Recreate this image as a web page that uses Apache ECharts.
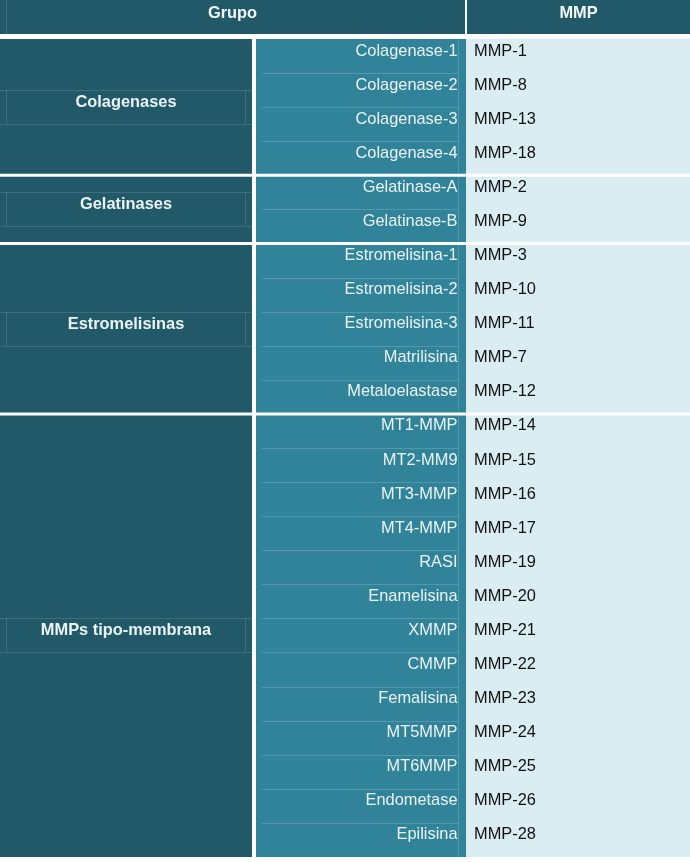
<!DOCTYPE html>
<html><head><meta charset="utf-8">
<script src="https://cdn.jsdelivr.net/npm/echarts@6/dist/echarts.min.js"></script>
<style>html,body{margin:0;padding:0;background:#fff}#c{width:690px;height:862px}</style>
</head><body><div id="c"></div>
<script>
const headers = ['Grupo', 'MMP'];
const groups = ['Colagenases', 'Gelatinases', 'Estromelisinas', 'MMPs tipo-membrana'];
const groupSizes = [4, 2, 5, 13];
const enzymes = ['Colagenase-1','Colagenase-2','Colagenase-3','Colagenase-4','Gelatinase-A','Gelatinase-B','Estromelisina-1','Estromelisina-2','Estromelisina-3','Matrilisina','Metaloelastase','MT1-MMP','MT2-MM9','MT3-MMP','MT4-MMP','RASI','Enamelisina','XMMP','CMMP','Femalisina','MT5MMP','MT6MMP','Endometase','Epilisina'];
const mmps = ['MMP-1','MMP-8','MMP-13','MMP-18','MMP-2','MMP-9','MMP-3','MMP-10','MMP-11','MMP-7','MMP-12','MMP-14','MMP-15','MMP-16','MMP-17','MMP-19','MMP-20','MMP-21','MMP-22','MMP-23','MMP-24','MMP-25','MMP-26','MMP-28'];

// layout (x in axis units = px)
const HEADER_ROWS = 1.144;
const COL = { headA:[0,465], headB:[467,690], group:[0,252], sub:[256,466], val:[466,690] };
const DARK = '#225968', MID = '#31839a', LIGHT = '#daedf3';
const TXT_LIGHT = '#eaf4f7', TXT_DARK = '#111111';
const FONT = '16.4px "Liberation Sans", Arial, sans-serif';
const BFONT = 'bold 16.4px "Liberation Sans", Arial, sans-serif';

const totalRows = groupSizes.reduce((a,b)=>a+b,0);
const groupStart = []; { let acc = 0; groupSizes.forEach(s => { groupStart.push(acc); acc += s; }); }

const cells = [{kind:'head'}].concat(groups.map((g,i)=>({kind:'group', gi:i})));

function renderItem(params, api) {
  const cell = cells[params.dataIndex];
  const X = v => api.coord([v, 0])[0];
  const Y = v => api.coord([0, v])[1];
  const ch = [];
  const line = (x1,y1,x2,y2,c) => ch.push({type:'line', shape:{x1,y1,x2,y2}, style:{stroke:c, lineWidth:1}, silent:true});
  if (cell.kind === 'head') {
    const t = Y(-HEADER_ROWS), b = Y(0) - 5;
    [COL.headA, COL.headB].forEach((c, i) => {
      ch.push({type:'rect', shape:{x:X(c[0]), y:t, width:X(c[1])-X(c[0]), height:b-t}, style:{fill:DARK}});
      ch.push({type:'text', style:{text:headers[i], x:(X(c[0])+X(c[1]))/2, y:t+13.5, align:'center', verticalAlign:'middle', fill:'#f2f9fb', font:BFONT}});
    });
    line(6.5, t, 6.5, b, 'rgba(255,255,255,0.12)');
    return {type:'group', children:ch};
  }
  const gi = cell.gi, last = groups.length - 1;
  const r0 = groupStart[gi], r1 = r0 + groupSizes[gi];
  const top = Y(r0) + (gi === 0 ? 0 : 1.5);
  const bot = Y(r1) - (gi === last ? 0 : 1.5);
  const rect = (c, fill) => ch.push({type:'rect', shape:{x:X(c[0]), y:top, width:X(c[1])-X(c[0]), height:bot-top}, style:{fill}});
  rect(COL.group, DARK); rect(COL.sub, MID); rect(COL.val, LIGHT);
  // faint inner box in group column
  const c = (Y(r0) + Y(r1)) / 2;
  const faintG = 'rgba(255,255,255,0.13)';
  line(X(COL.group[0]), Math.round(c-17)+0.5, X(COL.group[1]), Math.round(c-17)+0.5, faintG);
  line(X(COL.group[0]), Math.round(c+17)+0.5, X(COL.group[1]), Math.round(c+17)+0.5, faintG);
  line(6.5, Math.round(c-17), 6.5, Math.round(c+17), faintG);
  line(X(COL.group[1])-6.5, Math.round(c-17), X(COL.group[1])-6.5, Math.round(c+17), faintG);
  ch.push({type:'text', style:{text:groups[gi], x:(X(COL.group[0])+X(COL.group[1]))/2, y:c-4.5, align:'center', verticalAlign:'middle', fill:TXT_LIGHT, font:BFONT}});
  // sub column faint vertical
  const faintS = 'rgba(255,255,255,0.16)';
  line(X(COL.sub[1])-7.5, top, X(COL.sub[1])-7.5, bot, faintS);
  for (let r = r0; r < r1; r++) {
    const rt = Y(r);
    if (r > r0) line(X(COL.sub[0])+6, Math.round(rt)+0.5, X(COL.sub[1])-8, Math.round(rt)+0.5, faintS);
    ch.push({type:'text', style:{text:enzymes[r], x:X(COL.sub[1])-8.5, y:rt+12, align:'right', verticalAlign:'middle', fill:TXT_LIGHT, font:FONT}});
    ch.push({type:'text', style:{text:mmps[r], x:X(COL.val[0])+8, y:rt+12, align:'left', verticalAlign:'middle', fill:TXT_DARK, font:FONT}});
  }
  return {type:'group', children:ch};
}

const chart = echarts.init(document.getElementById('c'), null, {renderer:'canvas'});
chart.setOption({
  animation: false,
  backgroundColor: '#ffffff',
  grid: {left:0, right:0, top:0, bottom:5},
  xAxis: {type:'value', min:0, max:690, show:false},
  yAxis: {type:'value', inverse:true, min:-HEADER_ROWS, max:totalRows, show:false},
  series: [{
    type:'custom', coordinateSystem:'cartesian2d', clip:false,
    renderItem, data: cells.map(() => [0, 0])
  }]
});
</script></body></html>
